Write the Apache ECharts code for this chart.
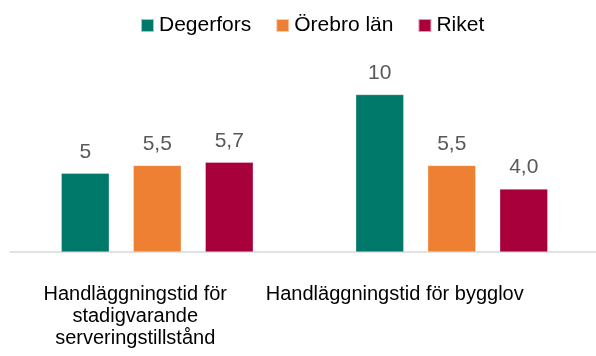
<!DOCTYPE html>
<html>
<head>
<meta charset="utf-8">
<script src="https://cdn.jsdelivr.net/npm/echarts@6/dist/echarts.min.js"></script>
<style>
  html, body { margin: 0; padding: 0; background: #fff; }
  #chart { width: 596px; height: 356px; }
</style>
</head>
<body>
<div id="chart"></div>
<script>
// Handläggningstid (veckor) – Degerfors jämfört med Örebro län och riket
const categories = [
  'Handläggningstid för\nstadigvarande\nserveringstillstånd',
  'Handläggningstid för bygglov'
];
const seriesNames = ['Degerfors', 'Örebro län', 'Riket'];
const degerfors = [5, 10];
const orebroLan = [5.5, 5.5];
const riket = [5.7, 4.0];
const labelDecimals = [0, 1, 1];

const colors = ['#00786A', '#EE8033', '#A8003B'];
const font = '"Liberation Sans", Arial, sans-serif';

// per-category horizontal shift of the axis text (rich padding, px)
const labelShift = [44, 114];

function fmt(v, d) {
  return (d === 0 ? String(v) : v.toFixed(d)).replace('.', ',');
}

const chart = echarts.init(document.getElementById('chart'), null, { renderer: 'canvas' });

const values = [degerfors, orebroLan, riket];

chart.setOption({
  animation: false,
  color: colors,
  textStyle: { fontFamily: font },
  legend: {
    top: 15,
    left: 140,
    padding: 0,
    itemWidth: 13,
    itemHeight: 13,
    itemGap: 24,
    icon: 'rect',
    textStyle: { fontSize: 21, color: '#000', fontFamily: font },
    data: seriesNames
  },
  grid: { left: 10, right: -3, top: 63, bottom: 104, containLabel: false, outerBoundsMode: 'none' },
  xAxis: {
    type: 'category',
    data: categories,
    axisLine: { lineStyle: { color: '#D9D9D9', width: 1.5 } },
    axisTick: { show: false },
    axisLabel: {
      interval: 0,
      margin: 31,
      hideOverlap: false,
      formatter: function (val, idx) {
        return val.split('\n').map(function (l) { return '{c' + idx + '|' + l + '}'; }).join('\n');
      },
      rich: {
        c0: { fontSize: 20, lineHeight: 22, color: '#000', fontFamily: font, padding: [0, labelShift[0], 0, 0] },
        c1: { fontSize: 20, lineHeight: 22, color: '#000', fontFamily: font, padding: [0, labelShift[1], 0, 0] }
      }
    }
  },
  yAxis: {
    type: 'value',
    min: 0,
    max: 12,
    show: false
  },
  series: seriesNames.map(function (name, i) {
    return {
      name: name,
      type: 'bar',
      data: values[i],
      barWidth: 48,
      barGap: '50%',
      itemStyle: { borderColor: 'rgba(255,255,255,0.6)', borderWidth: 0.5 },
      label: {
        show: true,
        position: 'top',
        distance: 11,
        fontSize: 21,
        color: '#595959',
        fontFamily: font,
        formatter: function (p) { return fmt(p.value, labelDecimals[i]); }
      }
    };
  })
});
</script>
</body>
</html>
